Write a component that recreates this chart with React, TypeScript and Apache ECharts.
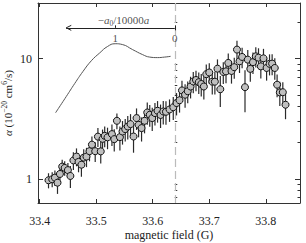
import React, { useEffect, useRef } from "react";
import * as echarts from "echarts";

// magnetic field (G)
const fieldG = [
  33.4156, 33.4221, 33.4269, 33.4315, 33.4358, 33.4398, 33.4442, 33.4499, 33.4543, 33.4596,
  33.4651, 33.4687, 33.4738, 33.4779, 33.4828, 33.4881, 33.4924, 33.4982, 33.503, 33.508,
  33.5112, 33.515, 33.52, 33.5278, 33.5319, 33.5366, 33.5419, 33.5465, 33.5513, 33.5558,
  33.5607, 33.566, 33.5713, 33.5749, 33.5802, 33.5855, 33.5903, 33.5947, 33.5991, 33.6039,
  33.6085, 33.6138, 33.6186, 33.6234, 33.6297, 33.6363, 33.6421, 33.6474, 33.6517, 33.6572,
  33.6619, 33.6669, 33.6717, 33.6765, 33.6814, 33.6858, 33.6904, 33.6947, 33.7, 33.7053,
  33.7099, 33.7145, 33.7195, 33.7248, 33.7296, 33.7336, 33.7393, 33.7442, 33.749, 33.7535,
  33.7581, 33.7632, 33.7681, 33.7726, 33.7773, 33.7823, 33.7871, 33.7912, 33.7959, 33.8014,
  33.8066, 33.8112, 33.8159, 33.82, 33.8248, 33.8301, 33.8349,
];
// alpha (10^-20 cm^6/s)
const alpha = [
  0.975, 0.994, 1.025, 0.931, 1.10, 1.266, 1.235, 1.184, 1.059, 1.426,
  1.534, 1.386, 1.313, 1.504, 1.534, 1.701, 1.928, 1.701, 2.247, 1.695,
  2.154, 2.282, 2.217, 2.358, 2.142, 3.043, 2.226, 2.479, 2.596, 2.728,
  2.856, 2.252, 3.205, 2.818, 2.646, 3.043, 3.568, 3.415, 3.205, 3.527,
  3.687, 3.402, 3.637, 3.616, 3.78, 3.944, 4.274, 4.51, 5.443, 5.012,
  5.359, 5.866, 6.457, 6.645, 6.371, 6.154, 5.866, 7.427, 7.674, 6.432,
  6.432, 8.254, 5.569, 7.748, 7.838, 9.209, 7.899, 8.494, 11.885, 9.495,
  10.33, 5.788, 9.81, 8.222, 9.35, 10.45, 10.19, 8.626, 10.06, 8.364,
  9.05, 9.085, 8.364, 6.071, 5.238, 5.258, 4.137,
];
const alphaErr = [
  0.14, 0.14, 0.15, 0.18, 0.16, 0.18, 0.17, 0.17, 0.22, 0.24,
  0.26, 0.25, 0.27, 0.26, 0.28, 0.3, 0.32, 0.32, 0.4, 0.35,
  0.42, 0.45, 0.45, 0.48, 0.45, 0.45, 0.5, 0.55, 0.55, 0.6,
  0.6, 0.6, 0.65, 0.6, 0.6, 0.65, 0.75, 0.7, 0.7, 0.75,
  0.75, 0.75, 0.8, 0.8, 0.8, 0.85, 0.9, 0.95, 1.1, 1.1,
  1.1, 1.2, 1.3, 1.3, 1.3, 1.3, 1.3, 1.5, 1.5, 1.4,
  1.4, 1.6, 1.6, 1.6, 1.6, 1.8, 1.7, 1.7, 2.2, 1.9,
  2.0, 2.2, 2.0, 1.8, 1.9, 2.0, 2.0, 1.8, 2.0, 1.8,
  1.8, 1.8, 1.7, 1.3, 1.2, 1.1, 1.0,
];

const xTicks = [33.4, 33.5, 33.6, 33.7, 33.8];
const yMajor = [1, 10];
const yMinor = [0.7, 0.8, 0.9, 2, 3, 4, 5, 6, 7, 8, 9, 20];
const resonanceField = 33.6386;

// inset: -a0/10000a  (u) and curve height on the alpha scale
const curveU = [2.0, 1.9, 1.82, 1.68, 1.54, 1.4, 1.26, 1.13, 1.0, 0.88, 0.71, 0.54, 0.42, 0.29, 0.17, 0.07];
const curveAlpha = [3.55, 4.22, 4.85, 6.2, 7.83, 9.6, 11.15, 12.6, 13.3, 13.1, 11.9, 10.8, 10.3, 10.2, 10.3, 10.45];
const insetAxisStart = 1.822;
const insetAxisY = 18.03;
const insetTickTop = 18.91;
const insetTickBottom = 17.18;
const insetHeadLen = 0.085;
const insetTicks = [1, 0];
const insetTickLabelY = 14.96;
const insetTitleU = 0.86;
const insetTitleY = 21.1;

const FONT = "Times New Roman";
const TXT = "#222";

export default function App() {
  const ref = useRef<HTMLDivElement>(null);
  useEffect(() => {
    if (!ref.current) return;
    document.body.style.margin = "0";
    const chart = echarts.init(ref.current, null, { renderer: "svg" });
    const uMin = -2.101;
    const uMax = 2.295;
    const yMin = 0.631;
    const yMax = 29.0;
    const xMin = 33.397;
    const xMax = 33.8605;
    const frame = { show: true, onZero: false, lineStyle: { color: "#333", width: 1 } };
    const yAx = (pos: string, ticks: number[], len: number, labels: boolean, line: boolean) => ({
      type: "log",
      logBase: 10,
      min: yMin,
      max: yMax,
      position: pos,
      axisLine: line ? frame : { show: false },
      axisTick: { show: true, inside: true, length: len, customValues: ticks, lineStyle: { color: "#333", width: 1 } },
      axisLabel: labels
        ? { show: true, customValues: yMajor, formatter: (v: number) => String(v), margin: 6, fontFamily: FONT, fontSize: 12, color: TXT }
        : { show: false },
      splitLine: { show: false },
      minorTick: { show: false },
    });
    const option: any = {
      animation: false,
      textStyle: { fontFamily: FONT },
      grid: { left: 38, right: 6, top: 3, bottom: 40, containLabel: false, outerBoundsMode: "none" },
      xAxis: [
        {
          type: "value",
          min: xMin,
          max: xMax,
          position: "bottom",
          axisLine: frame,
          axisTick: { show: true, inside: true, length: 4, customValues: xTicks, lineStyle: { color: "#333" } },
          axisLabel: { customValues: xTicks, formatter: (v: number) => v.toFixed(1), margin: 12, fontFamily: FONT, fontSize: 12, color: TXT },
          splitLine: { show: false },
          name: "magnetic field (G)",
          nameLocation: "middle",
          nameGap: 26,
          nameMoveOverlap: false,
          nameTextStyle: { fontFamily: FONT, fontSize: 12, color: TXT },
        },
        {
          type: "value",
          min: xMin,
          max: xMax,
          position: "top",
          axisLine: frame,
          axisTick: { show: true, inside: true, length: 4, customValues: xTicks, lineStyle: { color: "#333" } },
          axisLabel: { show: false },
          splitLine: { show: false },
        },
        { type: "value", min: uMin, max: uMax, inverse: true, show: false, splitLine: { show: false } },
      ],
      yAxis: [
        {
          ...yAx("left", yMajor, 5, true, true),
          name: "{i|α} (10{sup|−20} cm{sup|6}/s)",
          nameLocation: "middle",
          nameGap: 23,
          nameMoveOverlap: false,
          nameTextStyle: {
            fontFamily: FONT,
            fontSize: 11,
            color: TXT,
            rich: {
              i: { fontFamily: FONT, fontSize: 11, fontStyle: "italic", color: TXT, lineHeight: 15 },
              sup: { fontFamily: FONT, fontSize: 7.5, color: TXT, lineHeight: 15, verticalAlign: "top" },
            },
          },
        },
        yAx("left", yMinor, 2.5, false, false),
        yAx("right", yMajor, 5, false, true),
        yAx("right", yMinor, 2.5, false, false),
      ],
      series: [
        {
          type: "line",
          xAxisIndex: 2,
          yAxisIndex: 0,
          data: curveU.map((u, i) => [u, curveAlpha[i]]),
          smooth: true,
          showSymbol: false,
          symbol: "none",
          lineStyle: { color: "#555", width: 1 },
          z: 2,
          silent: true,
          markLine: {
            silent: true,
            symbol: "none",
            z: 2,
            label: { show: false },
            lineStyle: { color: "#222", width: 1, type: "solid" },
            data: [
              [{ coord: [insetAxisStart, insetAxisY] }, { coord: [0, insetAxisY] }],
              [{ coord: [insetAxisStart, insetAxisY] }, { coord: [insetAxisStart - insetHeadLen, insetTickTop] }],
              [{ coord: [insetAxisStart, insetAxisY] }, { coord: [insetAxisStart - insetHeadLen, insetTickBottom] }],
              [{ coord: [insetTicks[0], insetAxisY] }, { coord: [insetTicks[0], insetTickTop] }],
              [{ coord: [insetTicks[1], insetTickBottom] }, { coord: [insetTicks[1], insetTickTop] }],
            ],
          },
        },
        {
          type: "scatter",
          xAxisIndex: 2,
          yAxisIndex: 0,
          symbolSize: 0,
          silent: true,
          z: 5,
          data: [
            ...insetTicks.map((u) => ({ value: [u, insetTickLabelY], label: { formatter: String(u) } })),
            { value: [insetTitleU, insetTitleY], label: { formatter: "{n|−}{i|a}{sub|0}{n|/10000}{i|a}" } },
          ],
          label: {
            show: true,
            position: "inside",
            align: "center",
            verticalAlign: "middle",
            fontFamily: FONT,
            fontSize: 11,
            color: TXT,
            rich: {
              n: { fontFamily: FONT, fontSize: 11, color: TXT, lineHeight: 15 },
              i: { fontFamily: FONT, fontSize: 11, fontStyle: "italic", color: TXT, lineHeight: 15 },
              sub: { fontFamily: FONT, fontSize: 7.5, color: TXT, lineHeight: 15, verticalAlign: "bottom" },
            },
          },
        },
        {
          type: "custom",
          xAxisIndex: 0,
          yAxisIndex: 0,
          z: 3,
          silent: true,
          data: fieldG.map((b, i) => [b, alpha[i] - alphaErr[i], alpha[i] + alphaErr[i]]),
          encode: { x: 0, y: [1, 2] },
          renderItem: (params: any, api: any) => {
            const b = api.value(0);
            const lo = api.coord([b, api.value(1)]);
            const hi = api.coord([b, api.value(2)]);
            return {
              type: "line",
              shape: { x1: lo[0], y1: lo[1], x2: hi[0], y2: hi[1] },
              style: { stroke: "#2a2a2a", lineWidth: 1.2 },
            };
          },
        },
        {
          type: "scatter",
          xAxisIndex: 0,
          yAxisIndex: 0,
          z: 4,
          symbol: "circle",
          symbolSize: 7,
          itemStyle: { color: "#bfbfbf", borderColor: "#111", borderWidth: 1, opacity: 1 },
          data: fieldG.map((b, i) => [b, alpha[i]]),
          markLine: {
            silent: true,
            symbol: "none",
            z: 1,
            label: { show: false },
            lineStyle: { color: "#bbbbbb", width: 1.2, type: [8, 4] },
            data: [{ xAxis: resonanceField }],
          },
        },
      ],
    };
    chart.setOption(option);
    return () => chart.dispose();
  }, []);
  return <div ref={ref} style={{ width: 306, height: 243 }} />;
}
